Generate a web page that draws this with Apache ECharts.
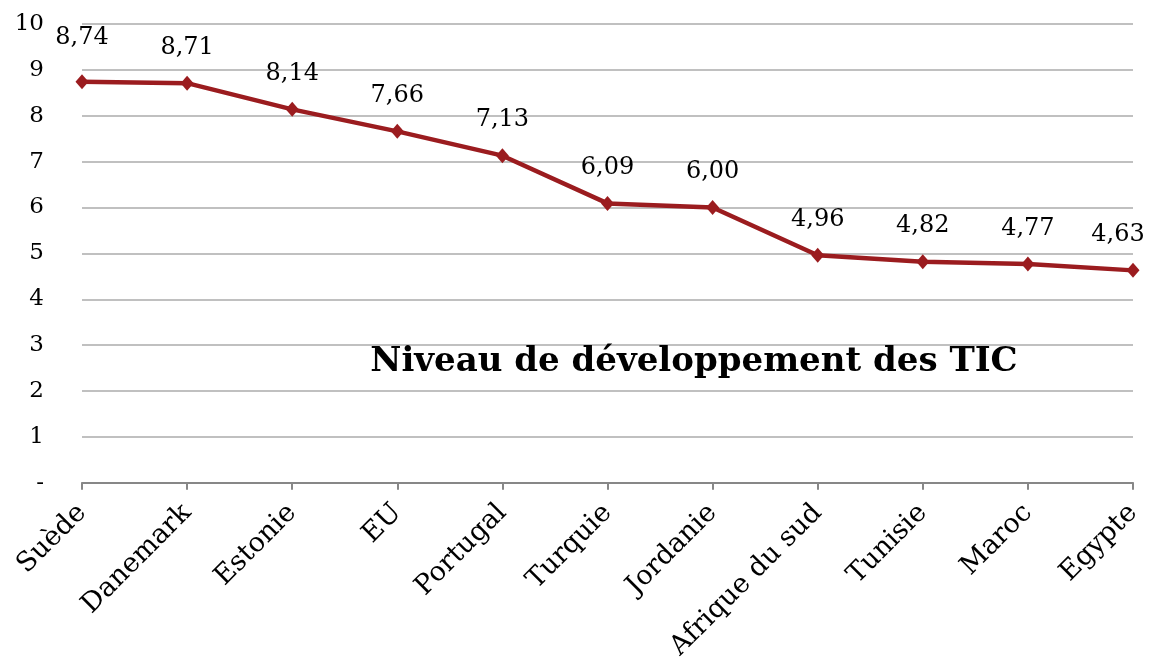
<!DOCTYPE html>
<html>
<head>
<meta charset="utf-8">
<script src="https://cdn.jsdelivr.net/npm/echarts@6/dist/echarts.min.js"></script>
<style>
  html, body { margin: 0; padding: 0; background: #ffffff; }
  #chart { width: 1151px; height: 663px; }
</style>
</head>
<body>
<div id="chart"></div>
<script>
// Pays / régions comparés
const categories = ['Suède', 'Danemark', 'Estonie', 'EU', 'Portugal', 'Turquie',
  'Jordanie', 'Afrique du sud', 'Tunisie', 'Maroc', 'Egypte'];
// Indice de développement des TIC
const values = [8.74, 8.71, 8.14, 7.66, 7.13, 6.09, 6.00, 4.96, 4.82, 4.77, 4.63];
// Graduations de l'axe vertical
const yTicks = [0, 1, 2, 3, 4, 5, 6, 7, 8, 9, 10];
const chartTitle = 'Niveau de développement des TIC';

const FONT = 'DejaVu Serif';
const RED = '#9b1c1f';

const fmt = v => v.toFixed(2).replace('.', ',');

// first label sits a little higher (clear of the top gridline),
// last label is nudged left so it stays inside the canvas
const seriesData = values.map((v, i) => {
  if (i === 0) return { value: v, label: { offset: [0, -9] } };
  if (i === values.length - 1) return { value: v, label: { offset: [-15, 0] } };
  return v;
});

const chart = echarts.init(document.getElementById('chart'), null, { renderer: 'canvas' });
chart.setOption({
  animation: false,
  backgroundColor: '#ffffff',
  title: {
    text: chartTitle,
    left: 689,
    top: 340,
    textAlign: 'center',
    textStyle: { fontFamily: FONT, fontWeight: 'bold', fontSize: 34, color: '#000' }
  },
  grid: { left: 82, right: 18, top: 24, bottom: 180, containLabel: false },
  xAxis: {
    type: 'category',
    data: categories,
    boundaryGap: false,
    axisLine: { lineStyle: { color: '#878787', width: 2 } },
    axisTick: { show: true, alignWithLabel: true, length: 7, lineStyle: { color: '#878787', width: 2 } },
    axisLabel: {
      rotate: 45, interval: 0, margin: 26,
      fontFamily: FONT, fontSize: 27, color: '#000'
    }
  },
  yAxis: {
    type: 'value',
    min: yTicks[0],
    max: yTicks[yTicks.length - 1],
    interval: 1,
    axisLine: { show: false },
    axisTick: { show: false },
    splitLine: { lineStyle: { color: '#c0c0c0', width: 2 } },
    axisLabel: {
      margin: 38,
      fontFamily: FONT, fontSize: 23, color: '#000',
      formatter: v => (v === 0 ? '-' : String(v))
    }
  },
  series: [{
    type: 'line',
    data: seriesData,
    symbol: 'diamond',
    symbolSize: [13, 15],
    lineStyle: { color: RED, width: 4.5 },
    itemStyle: { color: RED },
    label: {
      show: true,
      position: 'top',
      distance: 16,
      fontFamily: FONT, fontSize: 24, color: '#000',
      formatter: p => fmt(p.value)
    }
  }]
});
</script>
</body>
</html>
